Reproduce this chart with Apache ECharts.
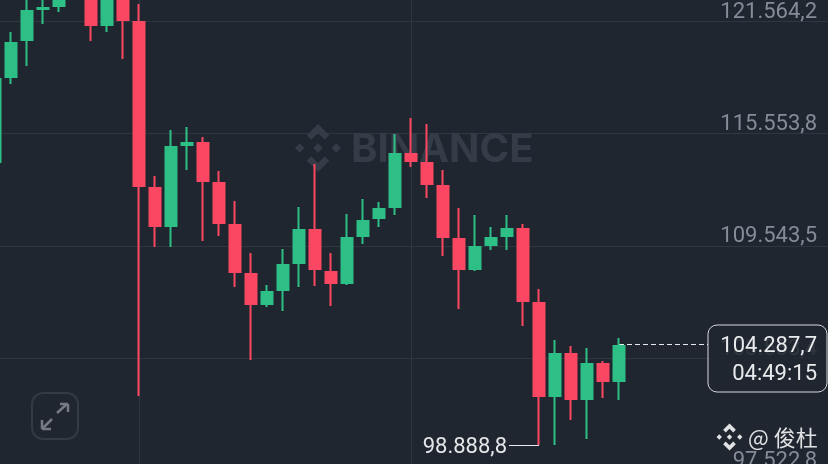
<!DOCTYPE html>
<html><head><meta charset="utf-8">
<style>html,body{margin:0;padding:0;background:#1f2630}#c{width:828px;height:464px}</style>
<script src="https://cdn.jsdelivr.net/npm/echarts@6/dist/echarts.min.js"></script>
</head><body><div id="c"></div>
<script>
const opens=[114034,118583,120563,122222,122383,123453,123774,121366,122972,121527,112642,110608,114944,115051,112910,110662,108040,106434,107183,108628,110394,108147,107558,110073,111037,111625,114462,113980,112749,109913,108307,109592,110073,110448,106487,101510,103758,101350,103223,102313];
const closes=[118476,120403,122115,122276,123025,124310,121366,123774,121634,112749,110608,114837,115051,113017,110769,108147,106434,107076,108521,110394,108307,107558,109966,110876,111518,114462,114087,112856,110020,108307,109485,109966,110448,106594,101510,103758,101350,103223,102313,104186];
const lows=[113606,118208,119172,121420,122062,123239,120510,120991,119546,101510,109485,109485,113606,109806,110073,107344,103437,106273,106059,107344,107397,106327,107451,109645,110555,111197,113766,112107,109003,106166,108200,109324,109324,105256,98888.8,98888,100226,99209,101403,101296];
const highs=[118851,120991,123025,123025,123239,124845,124310,124310,123239,122490,113284,115746,115907,115372,113552,111946,109163,107451,109378,111625,113927,109163,111251,112054,111893,115532,116389,116068,113606,111572,111197,110555,111197,110716,107237,104507,104186,104079,103383,104614];
const tickValues=[121564.2,115553.8,109543.5,103533.1,97522.8];
const tickLabels=['121.564,2','115.553,8','109.543,5','103.533,4','97.522,8'];
const categories=Array.from({length:53},(_,i)=>'c'+i);
const verticalGridAt=[9,26];
const lastPrice=104287.7, lastPriceText='104.287,7', countdownText='04:49:15';
const lowPrice=98888.8, lowPriceText='98.888,8', lowIndex=34, lastIndex=39;
const candles=opens.map((o,i)=>[o,closes[i],lows[i],highs[i]]);
const FONT='Roboto';

const chevronTop=[[0,-1],[.47,-.53],[.28,-.34],[0,-.62],[-.28,-.34],[-.47,-.53]];
const chevronBottom=chevronTop.map(p=>[p[0],-p[1]]);
const dia=(cx,h)=>[[cx,-h],[cx+h,0],[cx,h],[cx-h,0]];
function logo(x,y,r,fill,z){
  return {type:'group',x:x,y:y,scaleX:r,scaleY:r,z:z,children:[chevronTop,chevronBottom,dia(0,.2),dia(-.76,.2),dia(.76,.2)].map(pts=>({type:'polygon',z:z,shape:{points:pts},style:{fill:fill}}))};
}
const iconStroke='#767b83';
const seg=(a,b,c,d,col,w,z)=>({type:'line',z:z,shape:{x1:a,y1:b,x2:c,y2:d},style:{stroke:col,lineWidth:w}});

const chart=echarts.init(document.getElementById('c'));
chart.setOption({
  animation:false,
  backgroundColor:'#1f2630',
  grid:{left:-13,top:0,width:848,height:484,containLabel:false,outerBoundsMode:'none'},
  xAxis:{type:'category',data:categories,boundaryGap:true,axisLine:{show:false},axisTick:{show:false},axisLabel:{show:false},splitLine:{show:false}},
  yAxis:{type:'value',position:'right',min:96800,max:122704,scale:true,
    axisLine:{show:false},
    axisTick:{show:false,customValues:tickValues},
    axisLabel:{inside:true,margin:18,customValues:tickValues,hideOverlap:false,showMinLabel:true,showMaxLabel:true,
      color:'#848c97',fontFamily:FONT,fontSize:22,verticalAlign:'bottom',lineHeight:18,
      formatter:v=>{const k=tickValues.indexOf(v);return k>=0?tickLabels[k]:'';}},
    splitLine:{show:true,lineStyle:{color:'#2f3640',width:1}}},
  series:[
    {type:'line',data:[],z:1,silent:true,symbol:'none',
      markLine:{silent:true,symbol:'none',z:1,animation:false,label:{show:false},
        lineStyle:{color:'#2f3640',width:1,type:'solid'},
        data:verticalGridAt.map(i=>({xAxis:categories[i]}))}},
    {type:'line',data:[],z:1,silent:true,symbol:'none',
      markLine:{silent:true,symbol:'none',z:2,animation:false,label:{show:false},
        lineStyle:{color:'#e8eaec',width:1,type:[5,3]},
        data:[[{xAxis:categories[lastIndex],yAxis:lastPrice},{x:708,y:344}]]}},
    {type:'candlestick',data:candles,z:3,barWidth:12,clip:true,
      itemStyle:{color:'#2ebf87',color0:'#fb4761',borderColor:'#2ebf87',borderColor0:'#fb4761',borderColorDoji:'#2ebf87',borderWidth:2}},
    {type:'line',data:[],z:4,silent:true,symbol:'none',
      markLine:{silent:true,symbol:'none',z:4,animation:false,
        lineStyle:{color:'#e8eaec',width:1,type:'solid'},
        label:{show:true,position:'end',distance:1,offset:[-1,2],formatter:lowPriceText,color:'#e4e6e8',fontFamily:FONT,fontSize:22},
        data:[[{xAxis:categories[lowIndex],yAxis:lowPrice},{x:509,y:445}]]}}
  ],
  graphic:{elements:[
    logo(318,148,24,'#363c47',1),
    {type:'text',z:1,x:351,y:150,style:{text:'BINANCE',fill:'#363c47',font:'bold 40px Inter',textVerticalAlign:'middle',textAlign:'left'}},
    {type:'rect',z:20,shape:{x:708,y:325,width:119,height:67,r:9},style:{fill:'rgba(31,38,48,0.84)',stroke:'#d5d8db',lineWidth:1}},
    {type:'text',z:21,x:817,y:346.5,style:{text:lastPriceText,fill:'#e8eaec',font:'22px '+FONT,textAlign:'right',textVerticalAlign:'middle'}},
    {type:'text',z:21,x:817,y:374.5,style:{text:countdownText,fill:'#e8eaec',font:'22px '+FONT,textAlign:'right',textVerticalAlign:'middle'}},
    {type:'rect',z:20,shape:{x:32,y:393,width:46,height:46,r:11},style:{fill:'none',stroke:'#343a44',lineWidth:2}},
    seg(57,413,67,404,iconStroke,2.5,21),seg(60,404,68,404,iconStroke,2.5,21),seg(68,404,68,412,iconStroke,2.5,21),
    seg(43,428,52,419,iconStroke,2.5,21),seg(42,429,51,429,iconStroke,2.5,21),seg(42,429,42,420,iconStroke,2.5,21),
    logo(729.5,437,13.5,'#dfe1e3',22),
    {type:'text',z:22,x:748,y:438,style:{text:'@ 俊杜',fill:'#dfe1e3',font:'22px "Noto Sans CJK SC"',textAlign:'left',textVerticalAlign:'middle'}}
  ]}
});
</script></body></html>
